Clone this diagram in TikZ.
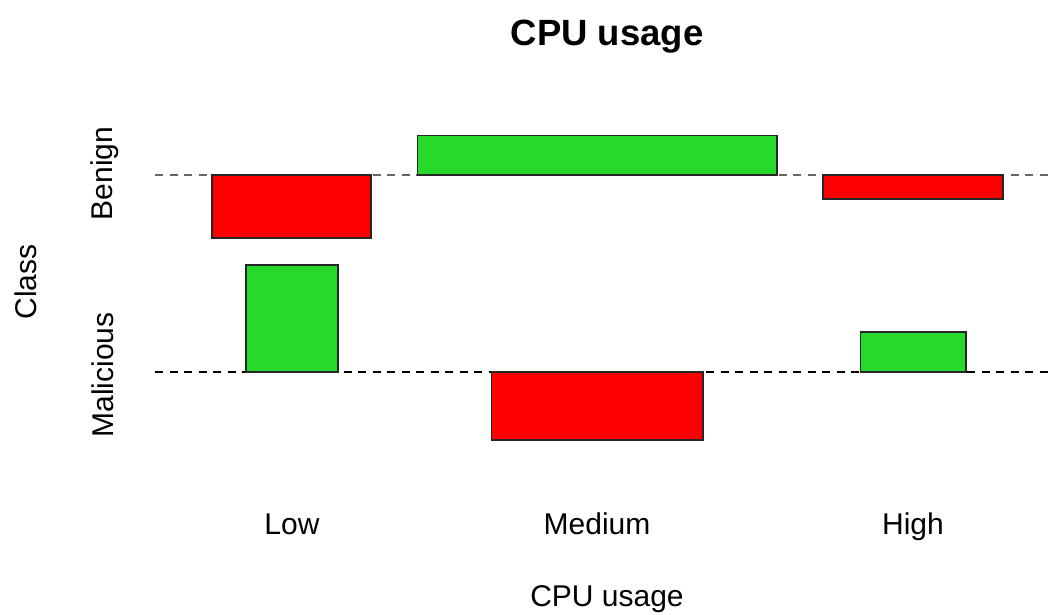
\documentclass[tikz,border=0pt]{standalone}
\usepackage{fontspec}
\setmainfont{Liberation Sans}
\definecolor{posgreen}{RGB}{38,217,42}
\definecolor{negred}{RGB}{255,0,0}
\begin{document}
\begin{tikzpicture}[x=1pt,y=-1pt,
  cell/.style={draw=black!85, line width=1.3pt, inner sep=0pt, outer sep=0pt, anchor=north west},
  posbar/.style={cell, fill=posgreen},
  negbar/.style={cell, fill=negred},
  baseline guide/.style={line width=1.8pt, dash pattern=on 8pt off 6.5pt},
  lbl/.style={font=\fontsize{30}{36}\selectfont, inner sep=0pt, anchor=base},
  ttl/.style={font=\fontsize{36.5}{44}\selectfont\bfseries, inner sep=0pt, anchor=base}]
\useasboundingbox (0,0) rectangle (1053,614);

% reference lines for each class
\coordinate (benL) at (155,175);
\coordinate (benR) at (1050,175);
\coordinate (malL) at (155,372);
\coordinate (malR) at (1050,372);
\draw[baseline guide, black!60] (benL) -- (benR);
\draw[baseline guide, black] (malL) -- (malR);

% residual bars
\node[negbar, minimum width=159pt, minimum height=63pt] (lowB) at (212,175) {};
\node[posbar, minimum width=92pt, minimum height=107pt] (lowM) at (246,265) {};
\node[posbar, minimum width=359.5pt, minimum height=39.5pt] (medB) at (417.5,135.5) {};
\node[negbar, minimum width=211.5pt, minimum height=68pt] (medM) at (491.5,372) {};
\node[negbar, minimum width=180pt, minimum height=24pt] (highB) at (823,175) {};
\node[posbar, minimum width=105.5pt, minimum height=40pt] (highM) at (860.5,332) {};

% title and axis texts
\node[ttl] (title) at (607,45) {CPU usage};
\node[lbl] (xLow) at (292,534) {Low};
\node[lbl] (xMed) at (597,534) {Medium};
\node[lbl] (xHigh) at (913,534) {High};
\node[lbl] (xName) at (607,606.5) {CPU usage};
\node[lbl, rotate=90] (yBen) at (112,173.5) {Benign};
\node[lbl, rotate=90] (yMal) at (113,375) {Malicious};
\node[lbl, rotate=90] (yName) at (36.5,282) {Class};
\end{tikzpicture}
\end{document}
